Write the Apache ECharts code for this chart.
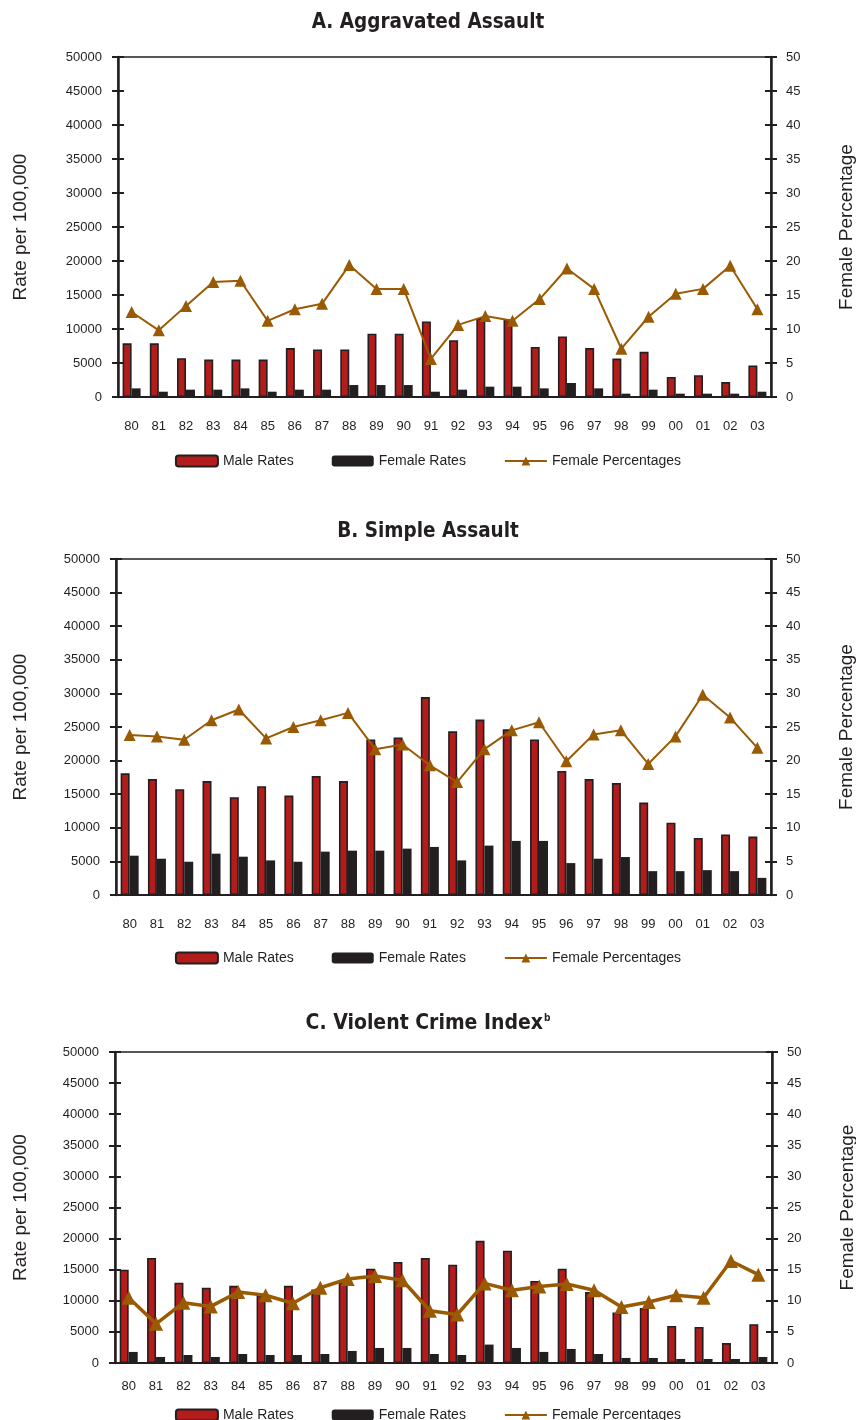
<!DOCTYPE html>
<html><head><meta charset="utf-8">
<script src="https://cdn.jsdelivr.net/npm/echarts@6/dist/echarts.min.js"></script>
<style>
html,body{margin:0;padding:0;background:#fff;}
.c{position:absolute;left:0;width:856px;}
</style></head>
<body>
<div id="a" class="c" style="top:0;height:480px"></div>
<div id="b" class="c" style="top:490px;height:490px"></div>
<div id="cc" class="c" style="top:990px;height:430px"></div>
<script>
const years = ['80','81','82','83','84','85','86','87','88','89','90','91','92','93','94','95','96','97','98','99','00','01','02','03'];

const aMale   = [7900,7900,5700,5500,5500,5500,7200,7000,7000,9300,9300,11100,8350,11600,11400,7350,8900,7200,5650,6650,2950,3200,2200,4650];
const aFemale = [1270,780,1080,1080,1270,780,1080,1080,1760,1760,1760,780,1080,1520,1520,1270,2060,1270,490,1080,490,490,490,780];
const aPct    = [12.5,9.8,13.4,16.9,17.1,11.2,12.9,13.7,19.4,15.9,15.9,5.6,10.6,11.9,11.2,14.4,18.9,15.9,7.1,11.8,15.2,15.9,19.3,12.9];

const bMale   = [18100,17250,15750,16950,14550,16200,14800,17700,16950,23150,23450,29450,24350,26100,24650,23150,18450,17250,16650,13750,10750,8500,9000,8700];
const bFemale = [5850,5400,4950,6150,5700,5150,4950,6450,6600,6600,6900,7150,5150,7350,8050,8050,4750,5400,5650,3550,3550,3700,3550,2550];
const bPct    = [23.8,23.6,23.1,26.0,27.6,23.3,25.0,26.0,27.1,21.7,22.4,19.3,16.8,21.7,24.5,25.7,19.9,23.9,24.5,19.5,23.6,29.8,26.4,21.9];

const cMale   = [15000,16900,12900,12100,12400,10900,12400,11800,13000,15150,16250,16900,15800,19650,18050,13200,15150,11400,8100,8850,5950,5800,3200,6250];
const cFemale = [1780,970,1290,970,1450,1290,1290,1450,1940,2420,2420,1450,1290,2960,2420,1780,2260,1450,810,810,650,650,650,970];
const cPct    = [10.5,6.3,9.7,9.1,11.4,10.9,9.6,12.1,13.5,14.0,13.3,8.4,7.8,12.8,11.7,12.3,12.7,11.7,9.0,9.8,10.9,10.5,16.4,14.2];

const INK = '#231f20', RED = '#b21c1b', BROWN = '#9a5a04';
const numFont = {fontFamily:'Liberation Sans, Arial, sans-serif', fontSize:13, color:INK};
const TITLE_FONT = 'DejaVu Sans Condensed, Liberation Sans Narrow, sans-serif';

function build(el, cfg){
  const ch = echarts.init(document.getElementById(el), null, {renderer:'canvas'});
  const g = cfg.grid;
  const plain = v => String(v);
  const opt = {
    animation:false,
    title:{text:cfg.title, left:'center', top:cfg.titleTop,
      textStyle:{fontFamily:TITLE_FONT, fontWeight:'bold', fontSize:20.5, color:INK,
        rich:{t:{fontFamily:TITLE_FONT, fontWeight:'bold', fontSize:21, color:INK},
              s:{fontFamily:TITLE_FONT, fontWeight:'bold', fontSize:10, color:INK, verticalAlign:'top', padding:[0,0,10,1]}}}},
    legend:{top:cfg.legendTop, left:'center', itemGap:38, itemWidth:42, itemHeight:11,
      textStyle:Object.assign({}, numFont, {fontSize:14}),
      data:['Male Rates','Female Rates','Female Percentages']},
    grid:{left:g.left, top:g.top, width:g.width, height:g.height, show:true, borderColor:INK, borderWidth:1.5,
      backgroundColor:'transparent', containLabel:false, outerBoundsMode:'none'},
    xAxis:{type:'category', data:years, boundaryGap:true,
      axisLine:{lineStyle:{color:INK, width:2}},
      axisTick:{inside:true, length:4, interval:0, lineStyle:{color:INK, width:1.5}},
      axisLabel:Object.assign({margin:cfg.xMargin, interval:0}, numFont)},
    yAxis:[
      {type:'value', position:'left', min:0, max:50000, interval:5000,
        name:'Rate per 100,000', nameLocation:'middle', nameGap:cfg.leftNameGap, nameRotate:90,
        nameTextStyle:{fontFamily:'Liberation Sans, Arial, sans-serif', fontSize:19, color:INK},
        axisLine:{show:true, lineStyle:{color:INK, width:2.5}},
        axisTick:{show:true, length:6, lineStyle:{color:INK, width:2}},
        splitLine:{show:false},
        axisLabel:Object.assign({margin:16, formatter:plain}, numFont)},
      {type:'value', position:'right', min:0, max:50, interval:5,
        name:'Female Percentage', nameLocation:'middle', nameGap:cfg.rightNameGap, nameRotate:90,
        nameTextStyle:{fontFamily:'Liberation Sans, Arial, sans-serif', fontSize:19, color:INK},
        axisLine:{show:true, lineStyle:{color:INK, width:2.5}},
        axisTick:{show:true, length:6, lineStyle:{color:INK, width:2}},
        splitLine:{show:false},
        axisLabel:Object.assign({margin:15, formatter:plain}, numFont)},
      {type:'value', position:'left', min:0, max:50000, interval:5000,
        axisLine:{show:false}, axisTick:{show:true, inside:true, length:6, lineStyle:{color:INK, width:2}},
        axisLabel:{show:false}, splitLine:{show:false}},
      {type:'value', position:'right', min:0, max:50, interval:5,
        axisLine:{show:false}, axisTick:{show:true, inside:true, length:6, lineStyle:{color:INK, width:2}},
        axisLabel:{show:false}, splitLine:{show:false}}
    ],
    series:[
      {name:'Male Rates', type:'bar', data:cfg.male, barWidth:9, barGap:'0%', yAxisIndex:0,
        itemStyle:{color:RED, borderColor:INK, borderWidth:1.6}},
      {name:'Female Rates', type:'bar', data:cfg.female, barWidth:9, barGap:'0%', yAxisIndex:0,
        itemStyle:{color:INK, borderColor:INK, borderWidth:0}},
      {name:'Female Percentages', type:'line', data:cfg.pct, yAxisIndex:1,
        symbol:'triangle', symbolSize:cfg.symSize, showSymbol:true,
        lineStyle:{color:BROWN, width:cfg.lineWidth}, itemStyle:{color:BROWN}}
    ]
  };
  ch.setOption(opt);
}

build('a', {title:'A. Aggravated Assault', titleTop:7, legendTop:449,
  grid:{left:118, top:57, width:653, height:340}, xMargin:23, leftNameGap:88, rightNameGap:66,
  male:aMale, female:aFemale, pct:aPct, symSize:12, lineWidth:2});
build('b', {title:'B. Simple Assault', titleTop:26, legendTop:456,
  grid:{left:116, top:69, width:655, height:336}, xMargin:23, leftNameGap:86, rightNameGap:66,
  male:bMale, female:bFemale, pct:bPct, symSize:12, lineWidth:2});
build('cc', {title:'{t|C. Violent Crime Index}{s|b}', titleTop:18, legendTop:413,
  grid:{left:115, top:62, width:657, height:311}, xMargin:17, leftNameGap:85, rightNameGap:66,
  male:cMale, female:cFemale, pct:cPct, symSize:14, lineWidth:3.5});
</script>
</body></html>
